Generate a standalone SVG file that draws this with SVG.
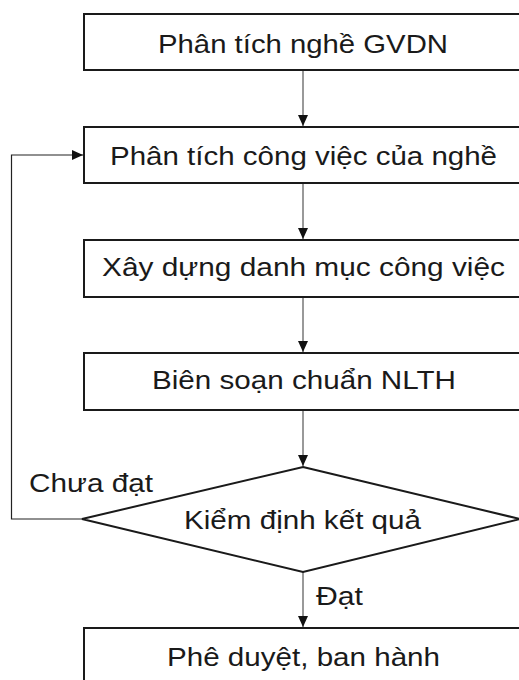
<svg xmlns="http://www.w3.org/2000/svg" width="519" height="680" viewBox="0 0 519 680">
<style>
.box{fill:#fff;stroke:#1a1a1a;stroke-width:2}
.t{font-family:"Liberation Sans",Arial,sans-serif;font-size:26px;fill:#1a1a1a}
.c{fill:none;stroke:#555;stroke-width:1.2}
.l{fill:none;stroke:#222;stroke-width:1.2}
</style>
<defs>
<marker id="ah" markerWidth="12" markerHeight="12" refX="11" refY="5" orient="auto" markerUnits="userSpaceOnUse">
<path d="M0,0 L11,5 L0,10 Z" fill="#111"/>
</marker>
</defs>
<rect width="519" height="680" fill="#fff"/>
<g id="connectors">
<line class="c" x1="303" y1="70" x2="303" y2="126" marker-end="url(#ah)"/>
<line class="c" x1="303" y1="183" x2="303" y2="239" marker-end="url(#ah)"/>
<line class="c" x1="303" y1="297" x2="303" y2="352" marker-end="url(#ah)"/>
<line class="c" x1="303" y1="410" x2="303" y2="466" marker-end="url(#ah)"/>
<line class="c" x1="303" y1="572" x2="303" y2="627" marker-end="url(#ah)"/>
<polyline class="l" points="82,519 11.5,519 11.5,155 83,155" marker-end="url(#ah)"/>
<text class="t" x="29" y="492" textLength="124" lengthAdjust="spacingAndGlyphs">Chưa đạt</text>
<text class="t" x="316" y="605" textLength="47" lengthAdjust="spacingAndGlyphs">Đạt</text>
</g>
<g id="n1">
<rect class="box" x="84" y="14" width="440" height="56"/>
<text class="t" x="158" y="53" textLength="290" lengthAdjust="spacingAndGlyphs">Phân tích nghề GVDN</text>
</g>
<g id="n2">
<rect class="box" x="84" y="127" width="440" height="56"/>
<text class="t" x="110" y="165" textLength="387" lengthAdjust="spacingAndGlyphs">Phân tích công việc của nghề</text>
</g>
<g id="n3">
<rect class="box" x="84" y="240" width="440" height="57"/>
<text class="t" x="102" y="276" textLength="403" lengthAdjust="spacingAndGlyphs">Xây dựng danh mục công việc</text>
</g>
<g id="n4">
<rect class="box" x="84" y="353" width="440" height="57"/>
<text class="t" x="152" y="389" textLength="304" lengthAdjust="spacingAndGlyphs">Biên soạn chuẩn NLTH</text>
</g>
<g id="n5">
<polygon class="box" points="303,467 520,519 303,572 82,519"/>
<text class="t" x="184" y="529" textLength="237" lengthAdjust="spacingAndGlyphs">Kiểm định kết quả</text>
</g>
<g id="n6">
<rect class="box" x="84" y="628" width="440" height="60"/>
<text class="t" x="167" y="666" textLength="273" lengthAdjust="spacingAndGlyphs">Phê duyệt, ban hành</text>
</g>
</svg>
